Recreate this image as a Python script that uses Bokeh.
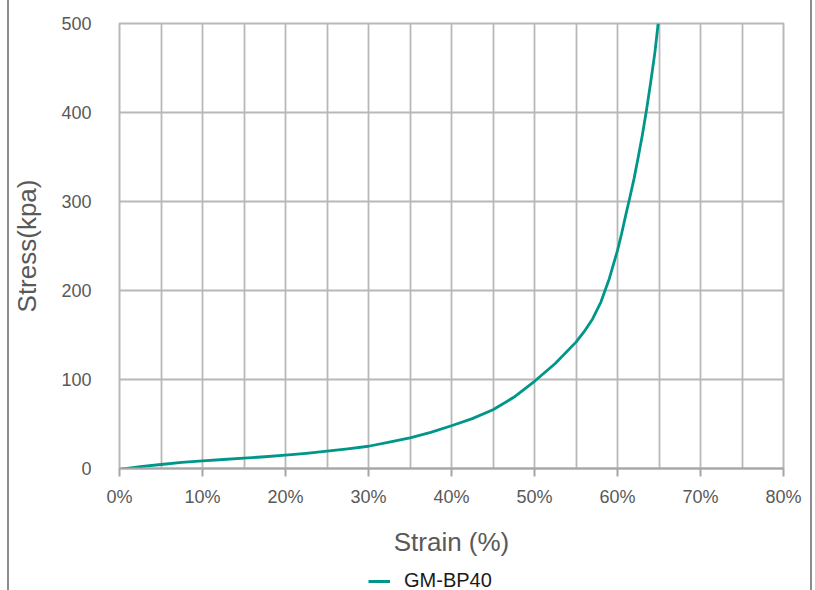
from bokeh.plotting import figure
from bokeh.layouts import column
from bokeh.models import (NumeralTickFormatter, SingleIntervalTicker, FixedTicker,
                          Legend, LegendItem, Range1d)
from bokeh.embed import file_html
from bokeh.resources import INLINE

# data (strain as fraction, stress in kPa)
strain = [0.0, 0.025, 0.05, 0.075, 0.10, 0.125, 0.15, 0.175, 0.20, 0.225, 0.25,
          0.275, 0.30, 0.325, 0.35, 0.375, 0.40, 0.425, 0.45, 0.475, 0.50,
          0.525, 0.55, 0.56, 0.57, 0.58, 0.59, 0.60, 0.605, 0.61, 0.615, 0.62,
          0.625, 0.63, 0.635, 0.64, 0.645, 0.649]
stress = [-1, 2, 4.5, 6.8, 8.6, 10.1, 11.6, 13.2, 15, 17, 19.5,
          22, 25, 29.5, 34.5, 40.5, 48, 56, 66, 80, 98,
          118, 142, 154, 168, 187, 213, 245, 264, 285, 305, 326,
          350, 375, 403, 434, 467, 500]
series_name = "GM-BP40"
x_ticks = [0.0, 0.1, 0.2, 0.3, 0.4, 0.5, 0.6, 0.7, 0.8]
y_ticks = [0, 100, 200, 300, 400, 500]

FONT = "Liberation Sans"
TXT = "#595959"
GRID = "#b8b8b8"
TEAL = "#00968A"

p = figure(width=801, height=562, output_backend="svg", toolbar_location=None,
           x_range=Range1d(0, 0.8), y_range=Range1d(0, 500),
           min_border_left=108, min_border_right=27, min_border_top=23,
           min_border_bottom=94)

line = p.line(strain, stress, line_color=TEAL, line_width=2.8, line_join="round")

p.outline_line_color = GRID
p.outline_line_width = 2

# grids
p.xgrid.ticker = SingleIntervalTicker(interval=0.05)
p.ygrid.ticker = FixedTicker(ticks=y_ticks)
for g in (p.xgrid, p.ygrid):
    g.grid_line_color = GRID
    g.grid_line_width = 1.8

# x axis
xa = p.xaxis[0]
xa.ticker = FixedTicker(ticks=x_ticks)
xa.formatter = NumeralTickFormatter(format="0%")
xa.axis_line_color = "#a6a6a6"
xa.axis_line_width = 2
xa.major_tick_line_color = "#a6a6a6"
xa.major_tick_line_width = 2
xa.major_tick_out = 8
xa.major_tick_in = 0
xa.minor_tick_line_color = None
xa.major_label_text_font = FONT
xa.major_label_text_font_size = "18px"
xa.major_label_text_color = TXT
xa.major_label_standoff = 10
xa.axis_label = "Strain (%)"
xa.axis_label_text_font = FONT
xa.axis_label_text_font_size = "26px"
xa.axis_label_text_font_style = "normal"
xa.axis_label_text_color = TXT
xa.axis_label_standoff = 17

# y axis
ya = p.yaxis[0]
ya.ticker = FixedTicker(ticks=y_ticks)
ya.axis_line_color = None
ya.major_tick_line_color = None
ya.major_tick_out = 0
ya.major_tick_in = 0
ya.minor_tick_line_color = None
ya.major_label_text_font = FONT
ya.major_label_text_font_size = "18px"
ya.major_label_text_color = TXT
ya.major_label_standoff = 28
ya.axis_label = "Stress(kpa)"
ya.axis_label_text_font = FONT
ya.axis_label_text_font_size = "26px"
ya.axis_label_text_font_style = "normal"
ya.axis_label_text_color = TXT
ya.axis_label_standoff = 16

# legend strip below the chart
lf = figure(width=801, height=28, output_backend="svg", toolbar_location=None,
            x_range=Range1d(10, 11), y_range=Range1d(10, 11),
            x_axis_location=None, y_axis_location=None,
            min_border_left=0, min_border_right=0, min_border_top=0,
            min_border_bottom=0)
lf.grid.visible = False
lf.outline_line_color = None
lline = lf.line(strain, stress, line_color=TEAL, line_width=3)

legend = Legend(items=[LegendItem(label=series_name, renderers=[lline])],
                location=(249, -2), orientation="horizontal",
                border_line_color=None,
                background_fill_alpha=0, label_text_font=FONT,
                label_text_font_size="20px", label_text_color="#1a1a1a",
                glyph_width=22, glyph_height=20, label_standoff=14,
                padding=0, margin=0)
lf.add_layout(legend, "center")

layout = column(p, lf, spacing=0)
layout.styles = {"box-shadow": "-2px 0 0 0 #8c8c8c, 2px 0 0 0 #8c8c8c",
                 "margin-left": "9px"}

open("out.html", "w").write(file_html(layout, INLINE))
